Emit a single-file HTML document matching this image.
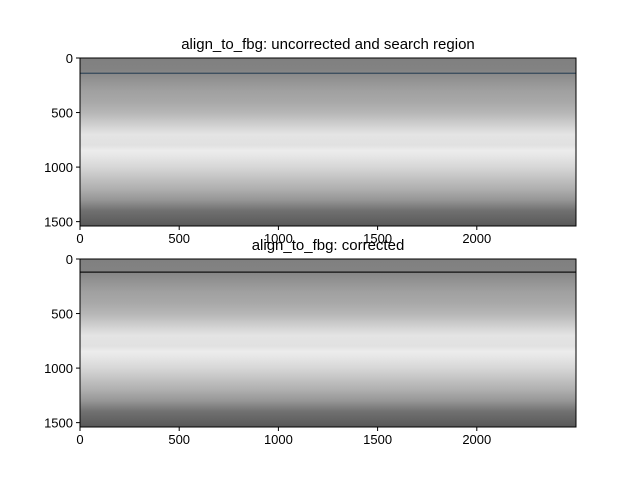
<!DOCTYPE html>
<html><head><meta charset="utf-8"><style>
body{margin:0;background:#fff;}
svg{display:block;font-family:"Liberation Sans",sans-serif;}
</style></head><body>
<svg id="fig" width="640" height="480"></svg>
<script>
const rowPos=[0,100,150,200,300,400,500,600,700,800,850,900,1000,1100,1200,1300,1400,1500,1540];
const grayVal=[128,130,138,146,160,168,182,205,228,225,236,230,215,195,175,150,112,95,88];
const xTicks=[0,500,1000,1500,2000];
const yTicks=[0,500,1000,1500];
const nCols=2500, nRows=1540;
const panels=[
 {title:"align_to_fbg: uncorrected and search region",top:58,lineRow:140,lineColor:"#34495a",name:"uncorrected"},
 {title:"align_to_fbg: corrected",top:259,lineRow:120,lineColor:"#111",name:"corrected"}
];
const NS="http://www.w3.org/2000/svg";
const svg=document.getElementById('fig');
function mk(t,a,p){const e=document.createElementNS(NS,t);for(const k in a)e.setAttribute(k,a[k]);(p||svg).appendChild(e);return e;}
const L=80,W=496,H=168;
const defs=mk('defs',{});
const grad=mk('linearGradient',{id:'g',x1:0,y1:0,x2:0,y2:1},defs);
rowPos.forEach((r,i)=>{const v=grayVal[i];mk('stop',{offset:r/nRows,'stop-color':`rgb(${v},${v},${v})`},grad);});
panels.forEach((p,pi)=>{
 const T=p.top;
 const xs=v=>L+v/nCols*W, ys=v=>T+v/nRows*H;
 const g=mk('g',{});
 
 
 const img=mk('rect',{x:L,y:T,width:W,height:H,fill:'url(#g)'},g);
 
 
 const ln=mk('line',{x1:L,x2:L+W,y1:ys(p.lineRow),y2:ys(p.lineRow),stroke:p.lineColor,'stroke-width':1.2},g);
 
 
 mk('rect',{x:L,y:T,width:W,height:H,fill:'none',stroke:'#000','stroke-width':1},g);
 xTicks.forEach(v=>{const x=xs(v);mk('line',{x1:x,x2:x,y1:T+H,y2:T+H+4,stroke:'#000'},g);
  const t=mk('text',{x:x,y:T+H+17,'text-anchor':'middle','font-size':13},g);t.textContent=v;
  });
 yTicks.forEach(v=>{const y=ys(v);mk('line',{x1:L-4,x2:L,y1:y,y2:y,stroke:'#000'},g);
  const t=mk('text',{x:L-7,y:y+5,'text-anchor':'end','font-size':13},g);t.textContent=v;
  });
 const tt=mk('text',{x:L+W/2,y:T-9,'text-anchor':'middle','font-size':15},g);tt.textContent=p.title;
 
});
</script>
</body></html>
